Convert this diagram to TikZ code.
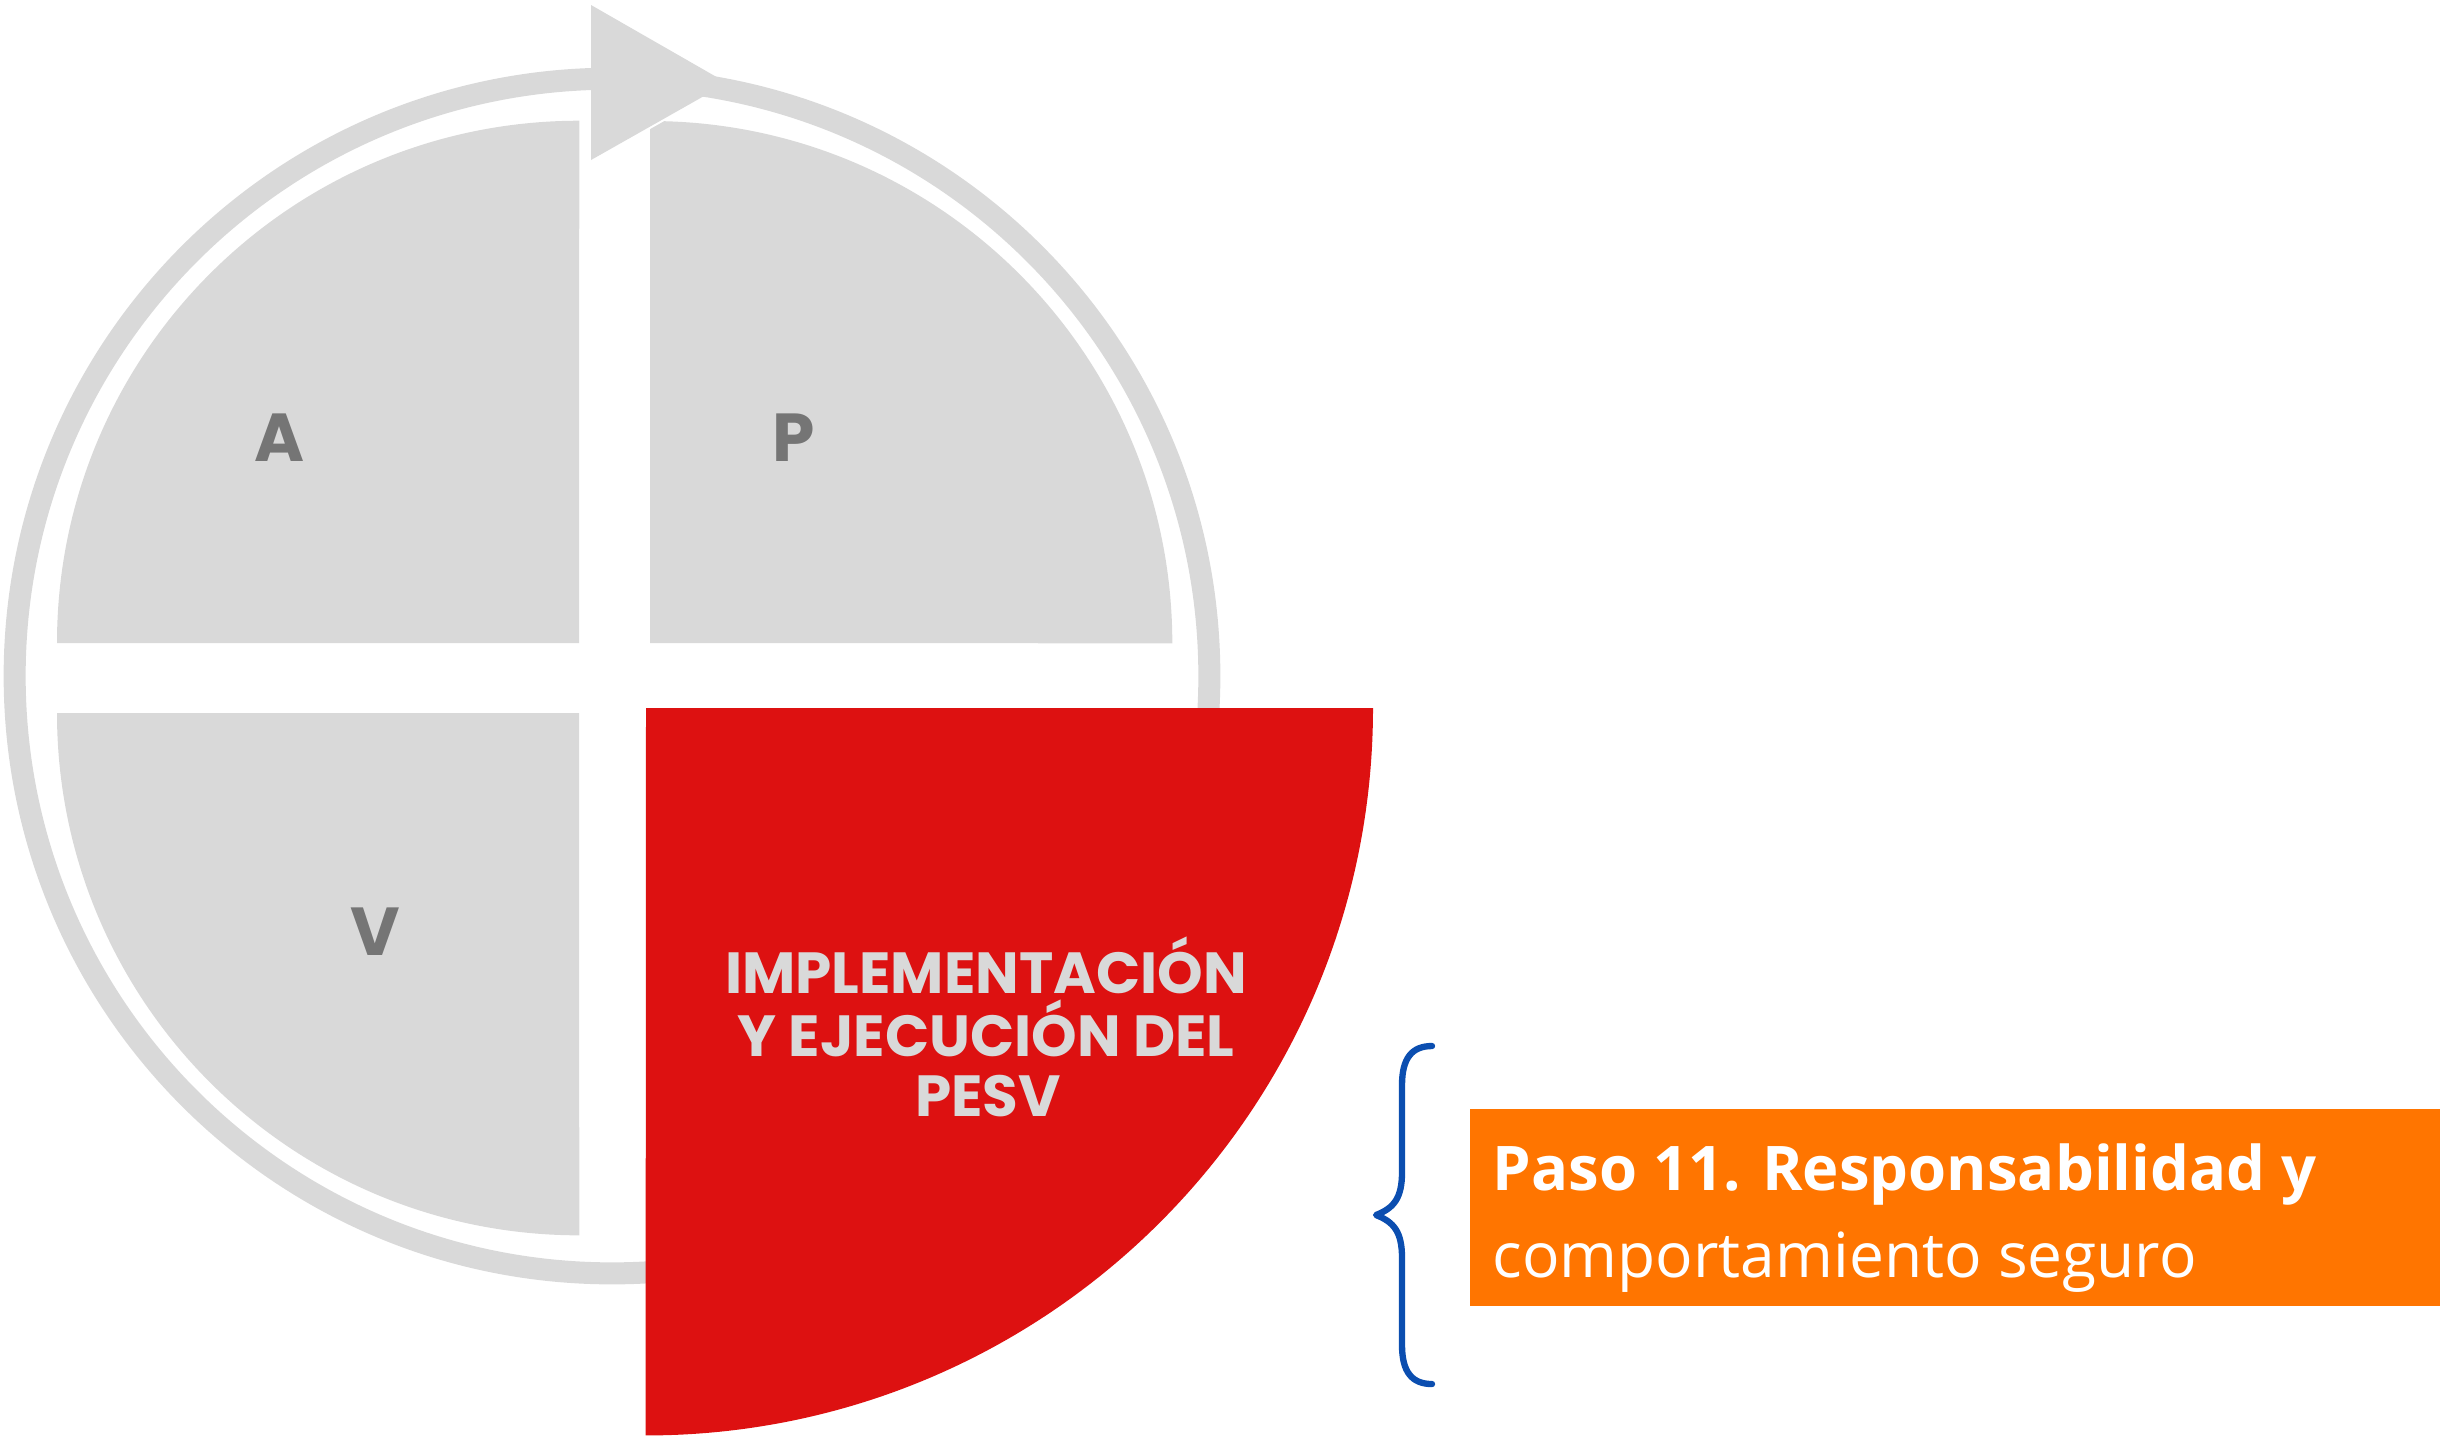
\documentclass[tikz,border=0pt]{standalone}
\usepackage{fontspec}
\setmainfont{Open Sans}
\newfontfamily\pop{Poppins}
\definecolor{qgray}{HTML}{D9D9D9}
\definecolor{lgray}{HTML}{757575}
\definecolor{qred}{HTML}{DD1111}
\definecolor{qorange}{HTML}{FF7500}
\definecolor{qblue}{HTML}{0B4EB0}
\tikzset{
  quad/.style={fill=qgray},
  letter/.style={inner sep=0pt, anchor=base, text=lgray, font=\pop\bfseries\fontsize{19.3}{19.3}\selectfont},
  redtext/.style={inner sep=0pt, anchor=base, text=qgray, font=\pop\bfseries\fontsize{16.5}{16.5}\selectfont},
  otext/.style={inner sep=0pt, anchor=base west, text=white},
}
\begin{document}
\begin{tikzpicture}[x=0.01cm,y=-0.01cm]
\useasboundingbox (0,0) rectangle (2440,1438);
% gray quadrants
\fill[quad] (579,643) -- (57,643) arc[start angle=180,end angle=90,radius=5.22cm] -- cycle;
\fill[quad] (650,643) -- (650,121) arc[start angle=90,end angle=0,radius=5.22cm] -- cycle;
\fill[quad] (579,713) -- (57,713) arc[start angle=180,end angle=270,radius=5.22cm] -- cycle;
% arrow head with white outline
\coordinate (ab1) at (591,5);
\coordinate (ab2) at (591,160);
\coordinate (at) at (727,83);
\filldraw[fill=qgray, draw=white, line width=1.2pt] (ab1) -- (at) -- (ab2) -- cycle;
% ring
\fill[qgray, even odd rule] (612,676) circle[radius=6.08cm] (612,676) circle[radius=5.86cm];
\fill[qgray] (ab1) -- (at) -- (ab2) -- cycle;
% red quadrant
\fill[qred] (646,708) -- (1373,708) arc[start angle=0,end angle=-90,radius=7.27cm] -- cycle;
% letters
\node[letter] (la) at (280,461) {A};
\node[letter] (lp) at (794,461) {P};
\node[letter] (lv) at (375,955) {V};
\node[redtext] (r1) at (986,993) {IMPLEMENTACIÓN};
\node[redtext] (r2) at (986,1056) {Y EJECUCIÓN DEL};
\node[redtext] (r3) at (988,1116) {PESV};
% brace
\draw[qblue, line width=1.8pt, line cap=round, line join=round]
  (1432,1046) .. controls (1412,1046) and (1402,1058) .. (1402,1085)
  -- (1402,1172) .. controls (1402,1198) and (1394,1208) .. (1376,1215)
  .. controls (1394,1222) and (1402,1232) .. (1402,1258)
  -- (1402,1345) .. controls (1402,1372) and (1412,1384) .. (1432,1384);
% orange box
\fill[qorange] (1470,1109) rectangle (2440,1306);
\node[otext, font=\bfseries\fontsize{17.5}{17.5}\selectfont] (o1) at (1492,1190) {Paso 11. Responsabilidad y};
\node[otext, font=\fontsize{17.7}{17.7}\selectfont] (o2) at (1492,1277) {comportamiento seguro};
\end{tikzpicture}
\end{document}
